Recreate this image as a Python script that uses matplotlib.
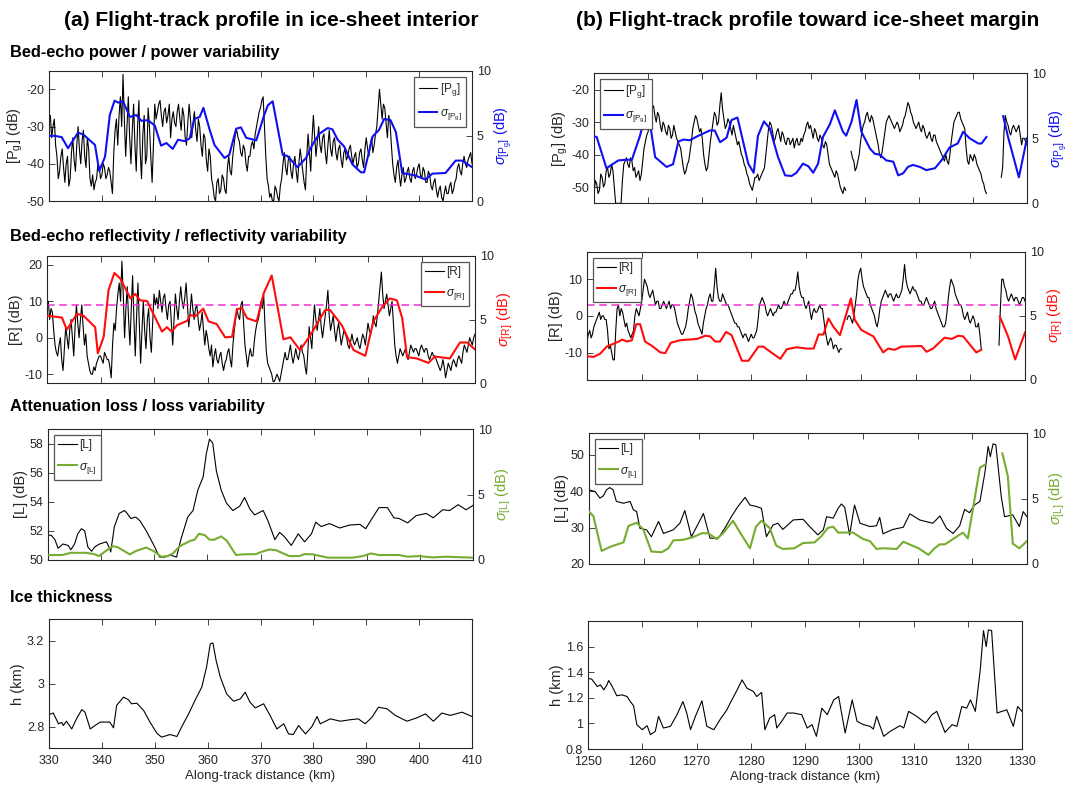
import numpy as np
import matplotlib
matplotlib.use("Agg")
import matplotlib.pyplot as plt
from matplotlib.ticker import FuncFormatter

plt.rcParams['font.family'] = ['Liberation Sans', 'DejaVu Sans']
plt.rcParams['mathtext.fontset'] = 'custom'
plt.rcParams['mathtext.rm'] = 'Liberation Sans'
plt.rcParams['mathtext.it'] = 'Liberation Sans:italic'
plt.rcParams['mathtext.bf'] = 'Liberation Sans:bold'
plt.rcParams['axes.unicode_minus'] = False

nan = np.nan

# ---------------- (a) ice-sheet interior, 330-410 km ----------------
# bed-echo power [Pg] (dB), every 0.25 km, one row = 2 km
pg_a = [-29, -27, -33, -30, -28, -35, -38, -44,
        -42, -38, -36, -41, -45, -40, -38, -46,
        -44, -37, -33, -39, -42, -35, -30, -36,
        -40, -34, -31, -38, -41, -33, -36, -44,
        -46, -43, -47, -45, -44, -40, -41, -44,
        -43, -40, -41, -44, -43, -41, -42, -45,
        -48, -37, -31, -28, -35, -27, -22, -30,
        -16, -28, -38, -30, -22, -33, -40, -31,
        -24, -35, -42, -30, -23, -37, -44, -32,
        -27, -40, -38, -25, -30, -38, -45, -35,
        -24, -28, -26, -24, -23, -27, -30, -26,
        -25, -29, -27, -24, -33, -28, -26, -29,
        -30, -26, -24, -28, -31, -25, -27, -33,
        -35, -29, -24, -28, -33, -29, -26, -31,
        -34, -28, -30, -35, -38, -32, -33, -39,
        -42, -36, -38, -44, -46, -49, -50, -45,
        -44, -48, -47, -43, -44, -47, -48, -41,
        -38, -42, -43, -38, -35, -32, -31, -33,
        -34, -37, -38, -35, -36, -40, -42, -38,
        -38, -35, -34, -36, -32, -30, -28, -26,
        -25, -23, -22, -30, -38, -44, -46, -49,
        -48, -50, -50, -46, -47, -49, -50, -46,
        -44, -40, -37, -41, -43, -39, -38, -42,
        -44, -40, -38, -42, -45, -40, -36, -39,
        -42, -45, -47, -38, -32, -37, -42, -33,
        -27, -33, -38, -34, -30, -35, -37, -33,
        -32, -37, -40, -35, -31, -36, -38, -34,
        -33, -37, -39, -36, -35, -39, -41, -37,
        -36, -39, -38, -36, -35, -38, -40, -38,
        -37, -41, -40, -37, -36, -39, -41, -36,
        -33, -36, -38, -35, -33, -37, -35, -32,
        -30, -25, -20, -24, -28, -24, -25, -29,
        -33, -27, -29, -35, -40, -43, -45, -41,
        -39, -43, -46, -43, -41, -45, -44, -42,
        -41, -44, -45, -42, -41, -44, -43, -41,
        -40, -43, -44, -41, -42, -45, -45, -42,
        -43, -46, -47, -45, -44, -47, -49, -47,
        -46, -49, -50, -48, -46, -48, -48, -46,
        -45, -48, -47, -45, -44, -41, -40, -42,
        -43, -40, -38, -40, -41, -39, -38, -37,
        -40]

spg_a_x = [330, 331.1, 332.4, 333.6, 335.5, 336.5, 338.7, 339.5, 340.6, 341.5,
           342.4, 343.1, 344, 345.3, 346.5, 347.5, 348.7, 350, 351.2, 352.2,
           353.4, 354.4, 355.6, 356.6, 357.5, 358.5, 359.2, 360.4, 361.3, 363.2,
           364.1, 365.4, 366.3, 367.3, 369.2, 370.7, 371.4, 372.3, 374.2, 375.1,
           377, 378.6, 379.8, 381.1, 382.7, 383.6, 384.6, 385.8, 387.4, 389,
           389.6, 391.2, 392.4, 393.4, 394.6, 395.6, 396.8, 399.3, 401.2, 402.5,
           405, 406.9, 408.1, 410]
spg_a_y = [5.0, 5.0, 4.9, 4.05, 5.25, 5.1, 4.3, 2.3, 3.4, 6.6,
           7.7, 7.55, 7.65, 6.45, 6.6, 6.15, 6.2, 5.8, 4.25, 4.45,
           4.0, 4.7, 4.6, 4.8, 6.3, 6.45, 7.15, 5.45, 4.3, 3.3,
           3.55, 5.55, 5.65, 4.85, 4.65, 6.6, 7.35, 7.65, 3.55, 3.45,
           2.6, 3.3, 4.3, 5.15, 5.6, 5.5, 4.7, 4.2, 2.8, 2.2,
           2.2, 4.95, 5.45, 6.3, 6.2, 5.3, 2.15, 1.95, 1.65, 2.1,
           2.15, 3.1, 3.1, 2.6]

# bed-echo reflectivity [R] (dB), every 0.25 km
r_a = [8, 10, 5, 8, 7, 2, -2, -4,
       -5, -2, 0, -6, -9, -3, 3, 0,
       -3, 2, 5, 0, -5, 3, 9, 4,
       0, 5, 9, 3, -2, 1, -5, -7,
       -9, -10, -10, -8, -9, -7, -6, -5,
       -5, -6, -7, -4, -5, -6, -6, -8,
       -11, -2, 4, 2, 8, 12, 15, 10,
       21, 12, 0, 8, 14, 5, -2, 8,
       17, 5, -5, 6, 15, 4, -7, 2,
       10, 2, -3, 5, 8, 0, -4, 4,
       12, 9, 11, 8, 13, 10, 7, 11,
       12, 8, 5, 9, 10, 4, -2, 5,
       12, 8, 5, 10, 14, 10, 8, 11,
       15, 9, 3, 7, 12, 8, 5, 8,
       9, 5, 2, 4, 7, 2, -2, 2,
       0, -3, -5, -2, -8, -5, -3, -6,
       -7, -5, -4, -7, -9, -7, -6, -4,
       -3, -6, -8, -2, 2, 5, 8, 6,
       5, 9, 10, 4, -2, -5, -8, -5,
       -3, -5, -5, -1, 2, 4, 5, 7,
       10, 8, 12, 3, -4, -7, -8, -9,
       -10, -12, -12, -11, -10, -11, -12, -10,
       -8, -6, -4, -6, -6, -4, -2, -5,
       -7, -5, -3, -5, -6, -4, -2, -4,
       -5, -8, -10, -4, 3, 0, -3, 4,
       9, 5, 2, 5, 8, 3, 0, 3,
       6, 9, 13, 6, 2, 4, 6, 2,
       -1, 2, 4, 1, -2, 0, 2, 1,
       0, -2, -3, -1, 1, -1, -2, -1,
       0, -2, -3, -1, 1, 0, -2, 1,
       4, 2, 1, 3, 6, 4, 3, 6,
       10, 14, 18, 12, 8, 10, 12, 9,
       6, 8, 10, 4, -2, -5, -7, -5,
       -3, -4, -5, -4, -3, -5, -6, -4,
       -2, -3, -4, -3, -3, -4, -5, -3,
       -2, -3, -4, -3, -3, -5, -6, -5,
       -4, -5, -5, -6, -7, -8, -9, -8,
       -6, -8, -11, -9, -7, -8, -9, -7,
       -6, -7, -8, -6, -5, -6, -7, -4,
       -2, -3, -4, -2, 0, -1, -2, 0,
       1]
r_a_thr = 9

sr_a_x = [330, 332.8, 333.7, 335.6, 336.8, 339, 339.5, 340.6, 341.5, 342.6,
          343.7, 345.6, 346.5, 347.4, 348.7, 351.5, 352.4, 353.3, 354.3, 356.2,
          356.8, 357.7, 359.2, 360.2, 361.7, 363.3, 364.6, 365.5, 366.4, 367.4,
          369.2, 370.5, 372, 374.2, 375.5, 377.3, 379.2, 382, 382.9, 385.1,
          387.3, 389.5, 391, 392.6, 394.1, 395.4, 396.4, 397.3, 399.1, 401.3,
          402.5, 405.3, 407.2, 408.5, 410]
sr_a_y = [5.3, 5.15, 4.2, 5.45, 5.3, 4.4, 2.35, 3.65, 7.3, 8.65,
          8.2, 6.65, 7.0, 6.5, 6.45, 4.05, 4.4, 4.05, 4.55, 4.9,
          5.35, 5.25, 5.85, 4.85, 4.65, 3.6, 3.65, 5.8, 5.9, 5.1,
          4.85, 7.05, 8.45, 3.45, 3.6, 2.6, 3.75, 5.75, 5.75, 4.55,
          2.6, 2.15, 4.85, 5.95, 6.65, 6.5, 5.1, 2.05, 1.95, 1.6,
          2.1, 1.95, 3.2, 3.2, 2.65]

# attenuation loss [L] (dB)
la_x = [330, 330.6, 331.3, 331.9, 332.8, 333.8, 334.3, 335, 335.6, 336.3,
        336.9, 337.5, 338.2, 338.8, 339.7, 341, 341.6, 341.8, 342.5, 343.4,
        344.4, 344.9, 345.6, 346.5, 347.3, 348.5, 349.8, 351, 352, 352.9,
        354.2, 355, 356.3, 357.3, 358.2, 359.2, 359.8, 360.4, 361, 361.7,
        362.6, 363.6, 364.8, 366.1, 367, 368, 368.9, 370.5, 371.4, 372.7,
        373.6, 374.5, 375.8, 377.1, 378.3, 379.6, 380.4, 381.4, 383, 384.9,
        386.8, 388.7, 389.8, 391, 392.3, 393.9, 395.1, 396.1, 397.7, 399.3,
        401.2, 402.5, 404.3, 405.6, 407.2, 408.7, 410]
la_y = [51.7, 51.7, 51.4, 50.8, 51.1, 51.0, 50.7, 51.1, 51.8, 52.15,
        52.0, 50.9, 50.6, 50.9, 51.1, 51.25, 50.8, 50.55, 52.3, 53.2,
        53.4, 53.2, 52.85, 52.95, 52.7, 52.0, 51.1, 50.2, 50.2, 50.35,
        50.2, 51.4, 52.95, 53.4, 54.8, 55.7, 57.3, 58.3, 58.05, 56.1,
        54.8, 53.9, 53.4, 53.7, 54.3, 53.5, 53.1, 53.4, 52.7, 51.4,
        51.9, 51.6, 51.0, 51.8, 51.25, 51.8, 52.6, 52.3, 52.5, 52.2,
        52.4, 52.45, 52.15, 52.85, 53.6, 53.6, 52.9, 52.85, 52.55, 53.05,
        53.2, 52.9, 53.45, 53.4, 53.8, 53.45, 53.75]

sla_x = [330, 332.7, 334.3, 337.1, 338.7, 339.6, 340.9, 342.2, 343, 345.4,
         346.6, 348.5, 349.8, 351.3, 352.6, 353.5, 354.8, 356.7, 357.6, 358.4,
         359.5, 360.4, 361.3, 362.6, 363.6, 364.8, 365.4, 366.6, 369.1, 370.4,
         371.7, 372.9, 375.4, 377.3, 378.3, 379.8, 382.7, 387.4, 389.3, 390.8,
         392.3, 396.1, 397.7, 399.8, 402.3, 404.9, 410]
sla_y = [0.38, 0.38, 0.55, 0.55, 0.45, 0.3, 0.7, 1.05, 1.0, 0.43,
         0.7, 0.95, 0.7, 0.25, 0.3, 0.5, 1.05, 1.45, 1.55, 2.0,
         1.9, 1.55, 1.55, 1.8, 1.5, 0.75, 0.38, 0.43, 0.45, 0.65,
         0.8, 0.75, 0.3, 0.3, 0.45, 0.43, 0.18, 0.18, 0.3, 0.5,
         0.38, 0.38, 0.25, 0.3, 0.2, 0.25, 0.18]

# ice thickness h (km)
ha_x = [330, 330.8, 331.8, 332.4, 332.7, 333.3, 334.3, 335.2, 336.2, 336.8,
        337.8, 338.7, 339.7, 341.5, 342.2, 342.8, 344.1, 345, 345.6, 346.6,
        347.9, 349.1, 350.4, 351.3, 352.9, 354.2, 355.1, 356.4, 357.6, 358.9,
        359.8, 360.5, 361, 361.6, 362.4, 363.6, 364.9, 366.2, 367.1, 368,
        369, 370.6, 371.8, 373.1, 374.4, 375.3, 376.2, 377.2, 378.5, 379.7,
        380.7, 381.3, 383.2, 385.1, 387, 388.5, 389.8, 391.1, 392.3, 393.9,
        395.5, 397.7, 399.6, 401.2, 402.7, 404.3, 405.9, 408.1, 410]
ha_y = [2.857, 2.864, 2.814, 2.82, 2.806, 2.826, 2.79, 2.837, 2.88, 2.868,
        2.79, 2.806, 2.822, 2.822, 2.795, 2.9, 2.938, 2.926, 2.907, 2.91,
        2.876, 2.822, 2.77, 2.752, 2.764, 2.755, 2.8, 2.86, 2.922, 2.985,
        3.078, 3.186, 3.19, 3.109, 3.031, 2.953, 2.919, 2.93, 2.961, 2.915,
        2.888, 2.907, 2.853, 2.79, 2.814, 2.767, 2.764, 2.806, 2.767, 2.8,
        2.848, 2.814, 2.837, 2.826, 2.833, 2.837, 2.814, 2.845, 2.891, 2.884,
        2.853, 2.826, 2.842, 2.86, 2.826, 2.864, 2.853, 2.868, 2.848]

# ---------------- (b) toward ice-sheet margin, 1250-1330 km ----------------
pg_b = [-52, -48, -49, -52, -51, -46, -47, -50,
        -49, -45, -44, -47, -46, -43, -45, -50,
        -55, -55, -55, -55, -55, -48, -43, -42,
        -41, -43, -44, -41, -42, -45, -44, -47,
        -46, -45, -48, -46, -42, -38, -36, -34,
        -33, -30, -28, -26, -25, -28, -30, -27,
        -28, -31, -33, -30, -31, -33, -34, -31,
        -32, -35, -34, -31, -33, -35, -36, -37,
        -38, -41, -44, -46, -45, -43, -42, -39,
        -36, -32, -30, -28, -29, -31, -33, -32,
        -35, -40, -43, -45, -44, -40, -36, -33,
        -30, -27, -28, -31, -30, -25, -21, -26,
        -29, -32, -31, -29, -30, -32, -34, -31,
        -33, -35, -37, -36, -38, -40, -41, -43,
        -44, -46, -47, -49, -50, -51, -49, -47,
        -47, -46, -48, -47, -46, -45, -44, -40,
        -36, -32, -30, -31, -33, -36, -35, -33,
        -32, -34, -36, -33, -34, -36, -37, -35,
        -35, -37, -36, -35, -38, -36, -35, -37,
        -37, -35, -36, -34, -33, -31, -30, -32,
        -31, -33, -35, -32, -33, -35, -36, -34,
        -35, -37, -38, -36, -37, -40, -43, -44,
        -45, -46, -47, -45, -46, -48, -50, -51,
        -52, -50, -51, nan, nan, nan, -39, -41,
        -42, -45, -44, -42, -40, -36, -33, -31,
        -30, -28, -27, -29, -30, -28, -29, -31,
        -33, -35, -37, -40, -41, -39, -36, -33,
        -30, -29, -28, -29, -30, -31, -32, -31,
        -30, -31, -33, -32, -31, -29, -28, -26,
        -24, -25, -27, -28, -30, -31, -32, -31,
        -30, -32, -33, -31, -32, -34, -35, -34,
        -33, -35, -36, -34, -34, -36, -37, -38,
        -39, -40, -41, -42, -40, -42, -43, -40,
        -36, -33, -30, -29, -28, -27, -27, -29,
        -30, -31, -32, -38, -42, -43, -40, -41,
        -42, -40, -41, -43, -44, -45, -46, -48,
        -49, -51, -52, nan, nan, nan, nan, nan,
        nan, nan, nan, nan, nan, -47, -44, -33,
        -28, -30, -31, -33, -34, -32, -31, -32,
        -33, -32, -31, -34, -37, -35, -35, -36,
        -37]

spg_b_x = [1250, 1250.5, 1252.3, 1254.5, 1256, 1257, 1258.5, 1259.6, 1260.3, 1261.3,
           1263.4, 1264.6, 1265.6, 1266.5, 1267.7, 1269.3, 1271.4, 1272.3, 1273.3, 1274.5,
           1275.4, 1276.5, 1277.3, 1278.5, 1279.5, 1280.3, 1281.4, 1282.5, 1284, 1285.3,
           1286.5, 1287.4, 1288.6, 1289.6, 1290.5, 1291.4, 1292.3, 1293.6, 1294.5, 1296,
           1296.6, 1297.6, 1298.5, 1299.4, 1301, 1301.9, 1302.8, 1304, 1305.3, 1306.2,
           1307.1, 1308, 1308.9, 1310.2, 1311.4, 1313, 1314.2, 1315.7, 1317.2, 1318.2,
           1319.4, 1321, 1321.6, 1322.5, 1324, 1325.6, 1326.5, 1328.5, 1330]
spg_b_y = [5.15, 5.1, 2.7, 3.3, 3.35, 3.35, 5.2, 6.95, 6.25, 3.55,
           2.8, 3.0, 4.75, 4.9, 4.85, 5.2, 5.6, 5.6, 4.7, 5.05,
           6.4, 6.6, 5.2, 3.05, 2.35, 5.2, 6.3, 5.75, 3.55, 2.15,
           2.1, 2.35, 3.05, 2.85, 2.35, 3.05, 5.1, 6.1, 7.15, 5.5,
           5.2, 6.3, 7.95, 5.5, 4.2, 3.8, 3.75, 3.3, 3.2, 2.15,
           2.3, 2.8, 2.95, 2.8, 2.55, 2.7, 3.3, 4.3, 4.6, 5.5,
           5.0, 4.6, 4.6, 5.1, nan, 6.7, 5.1, 2.0, 5.0]

r_b = [-7, -5, -4, -6, -5, -3, -2, -1,
       0, 1, -1, 0, 0, -1, -1, -4,
       -9, -8, -10, -12, -12, -4, 2, 3,
       0, 2, 1, -1, -3, -2, -4, -5,
       -6, -5, -4, 0, 2, 1, 0, 2,
       4, 7, 10, 9, 8, 6, 5, 6,
       7, 5, 3, 4, 4, 2, 2, 3,
       4, 3, 2, 3, 4, 2, 3, 3,
       2, 0, -2, -3, -4, -5, -5, -4,
       -3, -1, 2, 4, 6, 5, 3, 1,
       0, -2, -3, -4, -5, -2, 0, 2,
       3, 5, 6, 4, 4, 8, 13, 8,
       5, 4, 4, 6, 5, 4, 3, 3,
       2, 1, 0, -1, -2, -2, -3, -3,
       -4, -5, -6, -5, -5, -6, -7, -6,
       -5, -6, -6, -5, -4, -1, 3, 4,
       5, 4, 3, 1, 0, 1, 2, 1,
       0, 1, 1, 2, 3, 2, 2, 3,
       4, 3, 3, 4, 5, 6, 6, 7,
       7, 9, 12, 8, 6, 5, 5, 3,
       2, 3, 4, 1, -1, 1, 2, 1,
       1, 2, 3, 2, 2, -1, -4, -6,
       -8, -7, -6, -7, -9, -8, -8, -9,
       -10, -9, -9, nan, nan, nan, -1, 0,
       0, -1, -2, 0, 3, 6, 10, 12,
       13, 10, 8, 7, 6, 5, 5, 3,
       2, 1, 0, -2, -3, -1, 2, 4,
       5, 6, 7, 6, 5, 6, 6, 5,
       4, 5, 6, 5, 5, 6, 7, 10,
       14, 10, 8, 7, 6, 7, 8, 7,
       7, 6, 5, 4, 4, 3, 3, 4,
       5, 4, 3, 2, 2, 3, 4, 2,
       1, 0, -1, -2, -3, -3, -2, 1,
       5, 8, 10, 9, 8, 6, 5, 4,
       3, 3, 2, 0, -1, 0, 1, -1,
       -2, -1, 0, -1, -3, -3, -2, -5,
       -9, nan, nan, nan, nan, nan, nan, nan,
       nan, nan, nan, nan, nan, -8, 2, 10,
       10, 8, 7, 5, 4, 5, 6, 5,
       4, 5, 5, 4, 3, 4, 5, 5,
       4]
r_b_thr = 3

sr_b_x = [1250, 1251.2, 1252.4, 1253.6, 1255.8, 1256.4, 1257.3, 1258.2, 1259, 1259.7,
          1260.6, 1261.9, 1263.4, 1264.3, 1265.3, 1267, 1268.6, 1270.1, 1271.6, 1272.5,
          1273.4, 1274.3, 1275.4, 1276.4, 1278.3, 1279.5, 1281.3, 1282.2, 1283.8, 1285.3,
          1286.5, 1288.3, 1290.1, 1291.4, 1292.3, 1293.2, 1294.1, 1295, 1296.2, 1298.2,
          1298.9, 1300.1, 1301.4, 1302.3, 1304.1, 1305, 1306.2, 1307.4, 1311.1, 1312,
          1313.2, 1315.3, 1316.6, 1317.8, 1318.7, 1321.1, 1322, 1324, 1325.4, 1326.9,
          1328.2, 1330]
sr_b_y = [1.85, 1.8, 2.05, 2.6, 3.0, 3.15, 3.0, 3.1, 4.35, 4.35,
          3.0, 2.65, 2.15, 2.1, 2.9, 3.1, 3.15, 3.2, 3.45, 3.4,
          3.0, 3.0, 3.75, 3.5, 1.5, 1.5, 2.6, 2.6, 2.1, 1.65,
          2.4, 2.55, 2.45, 2.45, 3.55, 3.55, 4.8, 4.15, 3.5, 6.35,
          4.7, 3.9, 3.6, 3.4, 2.15, 2.45, 2.35, 2.6, 2.65, 2.2,
          2.45, 3.3, 3.2, 3.45, 3.4, 2.15, 2.35, nan, 4.95, 3.4,
          1.6, 3.7]

lb_x = [1250, 1251.1, 1252, 1252.6, 1253.2, 1253.8, 1254.4, 1255, 1256.3, 1257.5,
        1258.1, 1258.7, 1259.3, 1260.5, 1261.4, 1262.7, 1263.6, 1265.4, 1266.6, 1267.5,
        1268.7, 1270, 1270.9, 1272.1, 1273.6, 1274.8, 1276, 1277.2, 1278.5, 1279.4,
        1280.6, 1281.5, 1282.4, 1283.6, 1284.5, 1285.4, 1287.3, 1289.1, 1290.3, 1291.8,
        1292.8, 1293.4, 1294.6, 1295.5, 1296.1, 1296.7, 1297.6, 1298.5, 1299.5, 1301.3,
        1302.5, 1303.1, 1303.7, 1305.5, 1307.4, 1308.6, 1310.4, 1312.8, 1314.1, 1315.3,
        1316.5, 1317.7, 1318.6, 1319.5, 1320.4, 1321.4, 1322.3, 1322.9, 1323.3, 1323.8,
        1324.3, 1325.3, 1325.9, 1327.4, 1328.6, 1329.3, 1330]
lb_y = [40.4, 39.9, 38.1, 38.7, 40.4, 41.0, 40.4, 37.2, 36.7, 37.2,
        34.9, 34.4, 29.8, 29.4, 27.5, 31.7, 28.4, 29.4, 31.2, 34.7,
        27.5, 31.2, 33.9, 27.1, 27.1, 29.8, 33.0, 35.8, 38.3, 36.2,
        35.8, 35.3, 27.5, 30.7, 31.2, 29.5, 32.1, 32.3, 30.3, 28.0,
        29.4, 33.0, 32.6, 35.3, 36.5, 35.6, 28.0, 36.2, 31.2, 30.3,
        30.5, 32.8, 28.3, 29.5, 30.1, 33.8, 32.1, 31.2, 33.2, 29.8,
        28.4, 30.5, 35.0, 34.1, 36.2, 37.2, 45.0, 52.3, 49.5, 53.0,
        52.8, 38.5, 33.0, 33.5, 30.3, 34.4, 33.0]

slb_x = [1250, 1250.8, 1252.3, 1254.1, 1256.3, 1257.2, 1258.7, 1259.9, 1261.4, 1263.3,
         1264.5, 1265.4, 1267.2, 1269, 1270.6, 1271.8, 1273.3, 1274.5, 1276.3, 1277.6,
         1279.4, 1280.5, 1281.5, 1283, 1284.2, 1285.4, 1287.5, 1289.1, 1291.2, 1292.4,
         1293.6, 1294.6, 1295.5, 1298.2, 1300.1, 1301.3, 1302.5, 1303.7, 1306.2, 1307.4,
         1310.2, 1312, 1313.1, 1314.1, 1315, 1318.3, 1319.2, 1321.4, 1322.4, 1324,
         1325.5, 1326.5, 1327.4, 1328.6, 1330]
slb_y = [4.0, 3.65, 1.0, 1.35, 1.65, 2.9, 3.15, 2.65, 0.95, 0.9,
         1.2, 1.8, 1.85, 2.05, 2.35, 2.35, 1.9, 2.35, 3.3, 2.4,
         1.2, 2.85, 3.3, 2.75, 1.4, 1.15, 1.2, 1.6, 1.65, 2.1,
         2.75, 2.85, 2.4, 2.4, 1.9, 1.75, 1.15, 1.2, 1.15, 1.7,
         1.2, 0.7, 1.2, 1.5, 1.5, 2.4, 1.95, 7.35, 7.6, nan,
         8.45, 6.7, 1.55, 1.2, 1.75]

hb_x = [1250, 1250.7, 1251.7, 1252.3, 1252.9, 1253.5, 1253.8, 1254.4, 1255.3, 1256.3,
        1257.2, 1257.8, 1258.4, 1259, 1260, 1260.9, 1261.5, 1262.4, 1263, 1263.9,
        1265.2, 1266.4, 1267.5, 1268.2, 1268.9, 1269.8, 1271, 1271.9, 1273.2, 1274.4,
        1275.6, 1276.2, 1277.5, 1278.4, 1279.3, 1280.5, 1281.1, 1282, 1282.6, 1283.5,
        1284.4, 1284.8, 1285.7, 1286.7, 1287.9, 1289.4, 1290.4, 1291.3, 1292.1, 1293.1,
        1294.1, 1295.3, 1296.2, 1297.4, 1298.7, 1299.6, 1300.8, 1302, 1302.6, 1303.2,
        1304.5, 1305.7, 1307.5, 1308.2, 1309.1, 1310.6, 1312.2, 1313.4, 1314.3, 1315.8,
        1317.1, 1318, 1318.9, 1319.8, 1320.5, 1321.4, 1322.3, 1322.9, 1323.4, 1323.8,
        1324.4, 1325.4, 1326.3, 1327.2, 1328.4, 1329.2, 1330]
hb_y = [1.353, 1.345, 1.288, 1.301, 1.262, 1.301, 1.335, 1.294, 1.216, 1.223,
        1.21, 1.171, 1.138, 0.99, 0.951, 0.982, 0.912, 0.938, 1.055, 0.964,
        0.977, 1.068, 1.171, 1.081, 0.951, 1.055, 1.177, 0.977, 0.951, 1.034,
        1.106, 1.158, 1.262, 1.34, 1.275, 1.249, 1.21, 1.242, 0.951, 1.042,
        1.068, 0.964, 1.016, 1.081, 1.081, 1.068, 0.964, 0.99, 0.899, 1.119,
        1.068, 1.184, 1.21, 0.925, 1.184, 1.016, 0.99, 0.977, 0.956, 1.055,
        0.899, 0.938, 0.982, 0.964, 1.094, 1.055, 1.003, 1.068, 1.094, 0.93,
        0.99, 0.977, 1.132, 1.119, 1.184, 1.094, 1.418, 1.725, 1.6, 1.73,
        1.725, 1.081, 1.094, 1.106, 0.977, 1.132, 1.094]

# ---------------- figure ----------------
W, H = 1067, 787
TXT = '#262626'
BLUE = '#1010f0'
RED = '#ff0d0d'
GREEN = '#77ac30'
MAG = '#ee30d0'

fig = plt.figure(figsize=(W / 100, H / 100), dpi=100)


def box(l, t, r, b):
    return [l / W, 1 - b / H, (r - l) / W, (b - t) / H]


fmt = FuncFormatter(lambda v, p: '%g' % round(v, 3))


def style(ax, xlim, ylim, yticks, bottom):
    ax.set_xlim(*xlim)
    ax.set_ylim(*ylim)
    ax.set_xticks(np.arange(xlim[0], xlim[1] + 1, 10))
    ax.set_yticks(yticks)
    ax.yaxis.set_major_formatter(fmt)
    ax.tick_params(direction='in', length=4, width=0.6, labelsize=9,
                   colors=TXT, top=True)
    ax.tick_params(axis='x', pad=5)
    if not bottom:
        ax.tick_params(labelbottom=False)
    for s in ax.spines.values():
        s.set_linewidth(0.8)
        s.set_color(TXT)


def panel(rect, xlim, x, y, ylim, yticks, ylabel, blabel,
          sx=None, sy=None, scol=None, slabel=None, loc=None,
          thr=None, bottom=False):
    ax = fig.add_axes(rect)
    style(ax, xlim, ylim, yticks, bottom)
    hk, = ax.plot(x, y, color='black', lw=0.8)
    ax.set_ylabel(ylabel, fontsize=10.5, color=TXT, labelpad=1)
    if thr is not None:
        ax.axhline(thr, color=MAG, lw=1.1, ls=(0, (5, 3)))
    if sx is not None:
        ax2 = ax.twinx()
        ax2.set_ylim(0, 10)
        ax2.set_yticks([0, 5, 10])
        ax2.tick_params(direction='in', length=4, width=0.6, labelsize=9,
                        colors=TXT)
        for s in ax2.spines.values():
            s.set_visible(False)
        hs, = ax2.plot(sx, sy, color=scol, lw=1.5)
        ax2.set_ylabel(slabel, fontsize=10.5, color=scol, labelpad=1)
        leg = ax2.legend([hk, hs], [blabel, slabel.replace(' (dB)', '')],
                         loc=loc, fontsize=8.5, frameon=True, fancybox=False,
                         framealpha=1, edgecolor='#555555',
                         handlelength=1.6, handletextpad=0.2,
                         borderpad=0.35, labelspacing=0.8,
                         borderaxespad=0.5)
        leg.get_frame().set_linewidth(0.9)
        for t in leg.get_texts():
            t.set_color(TXT)
    if bottom:
        ax.set_xlabel('Along-track distance (km)', fontsize=9.5, color=TXT,
                      labelpad=2)
    return ax


xa = np.linspace(330, 410, len(pg_a))
xra = np.linspace(330, 410, len(r_a))
xb = np.linspace(1250, 1330, len(pg_b))
xrb = np.linspace(1250, 1330, len(r_b))

lab_pg = r'[P$_\mathrm{g}$] (dB)'
s_pg = r'$\sigma_{\mathrm{[P_g]}}$ (dB)'
s_r = r'$\sigma_{\mathrm{[R]}}$ (dB)'
s_l = r'$\sigma_{\mathrm{[L]}}$ (dB)'

# column (a)
panel(box(49, 70.7, 472, 201), (330, 410), xa, pg_a, (-50, -15),
      [-50, -40, -30, -20], lab_pg, r'[P$_\mathrm{g}$]',
      spg_a_x, spg_a_y, BLUE, s_pg, 'upper right')
panel(box(47, 255.7, 475, 383.3), (330, 410), xra, r_a, (-12.5, 22.5),
      [-10, 0, 10, 20], '[R] (dB)', '[R]',
      sr_a_x, sr_a_y, RED, s_r, 'upper right', thr=r_a_thr)
panel(box(48, 429, 473, 560), (330, 410), la_x, la_y, (50, 59),
      [50, 52, 54, 56, 58], '[L] (dB)', '[L]',
      sla_x, sla_y, GREEN, s_l, 'upper left')
panel(box(49, 619.3, 472, 748.3), (330, 410), ha_x, ha_y, (2.7, 3.3),
      [2.8, 3.0, 3.2], 'h (km)', 'h', bottom=True)

# column (b)
panel(box(594, 73.3, 1027, 203.3), (1250, 1330), xb, pg_b, (-55, -15),
      [-50, -40, -30, -20], lab_pg, r'[P$_\mathrm{g}$]',
      spg_b_x, spg_b_y, BLUE, s_pg, 'upper left')
panel(box(587, 251.7, 1025, 380), (1250, 1330), xrb, r_b, (-17.5, 17.5),
      [-10, 0, 10], '[R] (dB)', '[R]',
      sr_b_x, sr_b_y, RED, s_r, 'upper left', thr=r_b_thr)
panel(box(589, 433, 1027, 564), (1250, 1330), lb_x, lb_y, (20, 56),
      [20, 30, 40, 50], '[L] (dB)', '[L]',
      slb_x, slb_y, GREEN, s_l, 'upper left')
panel(box(588, 621, 1022, 749), (1250, 1330), hb_x, hb_y, (0.8, 1.8),
      [0.8, 1.0, 1.2, 1.4, 1.6], 'h (km)', 'h', bottom=True)

# titles and row headings
fig.text(271 / W, 1 - 20 / H, '(a) Flight-track profile in ice-sheet interior',
         ha='center', va='center', fontsize=15, fontweight='bold')
fig.text(808 / W, 1 - 20 / H, '(b) Flight-track profile toward ice-sheet margin',
         ha='center', va='center', fontsize=15, fontweight='bold')
rows = ['Bed-echo power / power variability',
        'Bed-echo reflectivity / reflectivity variability',
        'Attenuation loss / loss variability',
        'Ice thickness']
for txt, yy in zip(rows, [52, 236, 406, 597]):
    fig.text(10 / W, 1 - yy / H, txt, ha='left', va='center',
             fontsize=11.8, fontweight='bold')

fig.savefig('out.png', dpi=100)
